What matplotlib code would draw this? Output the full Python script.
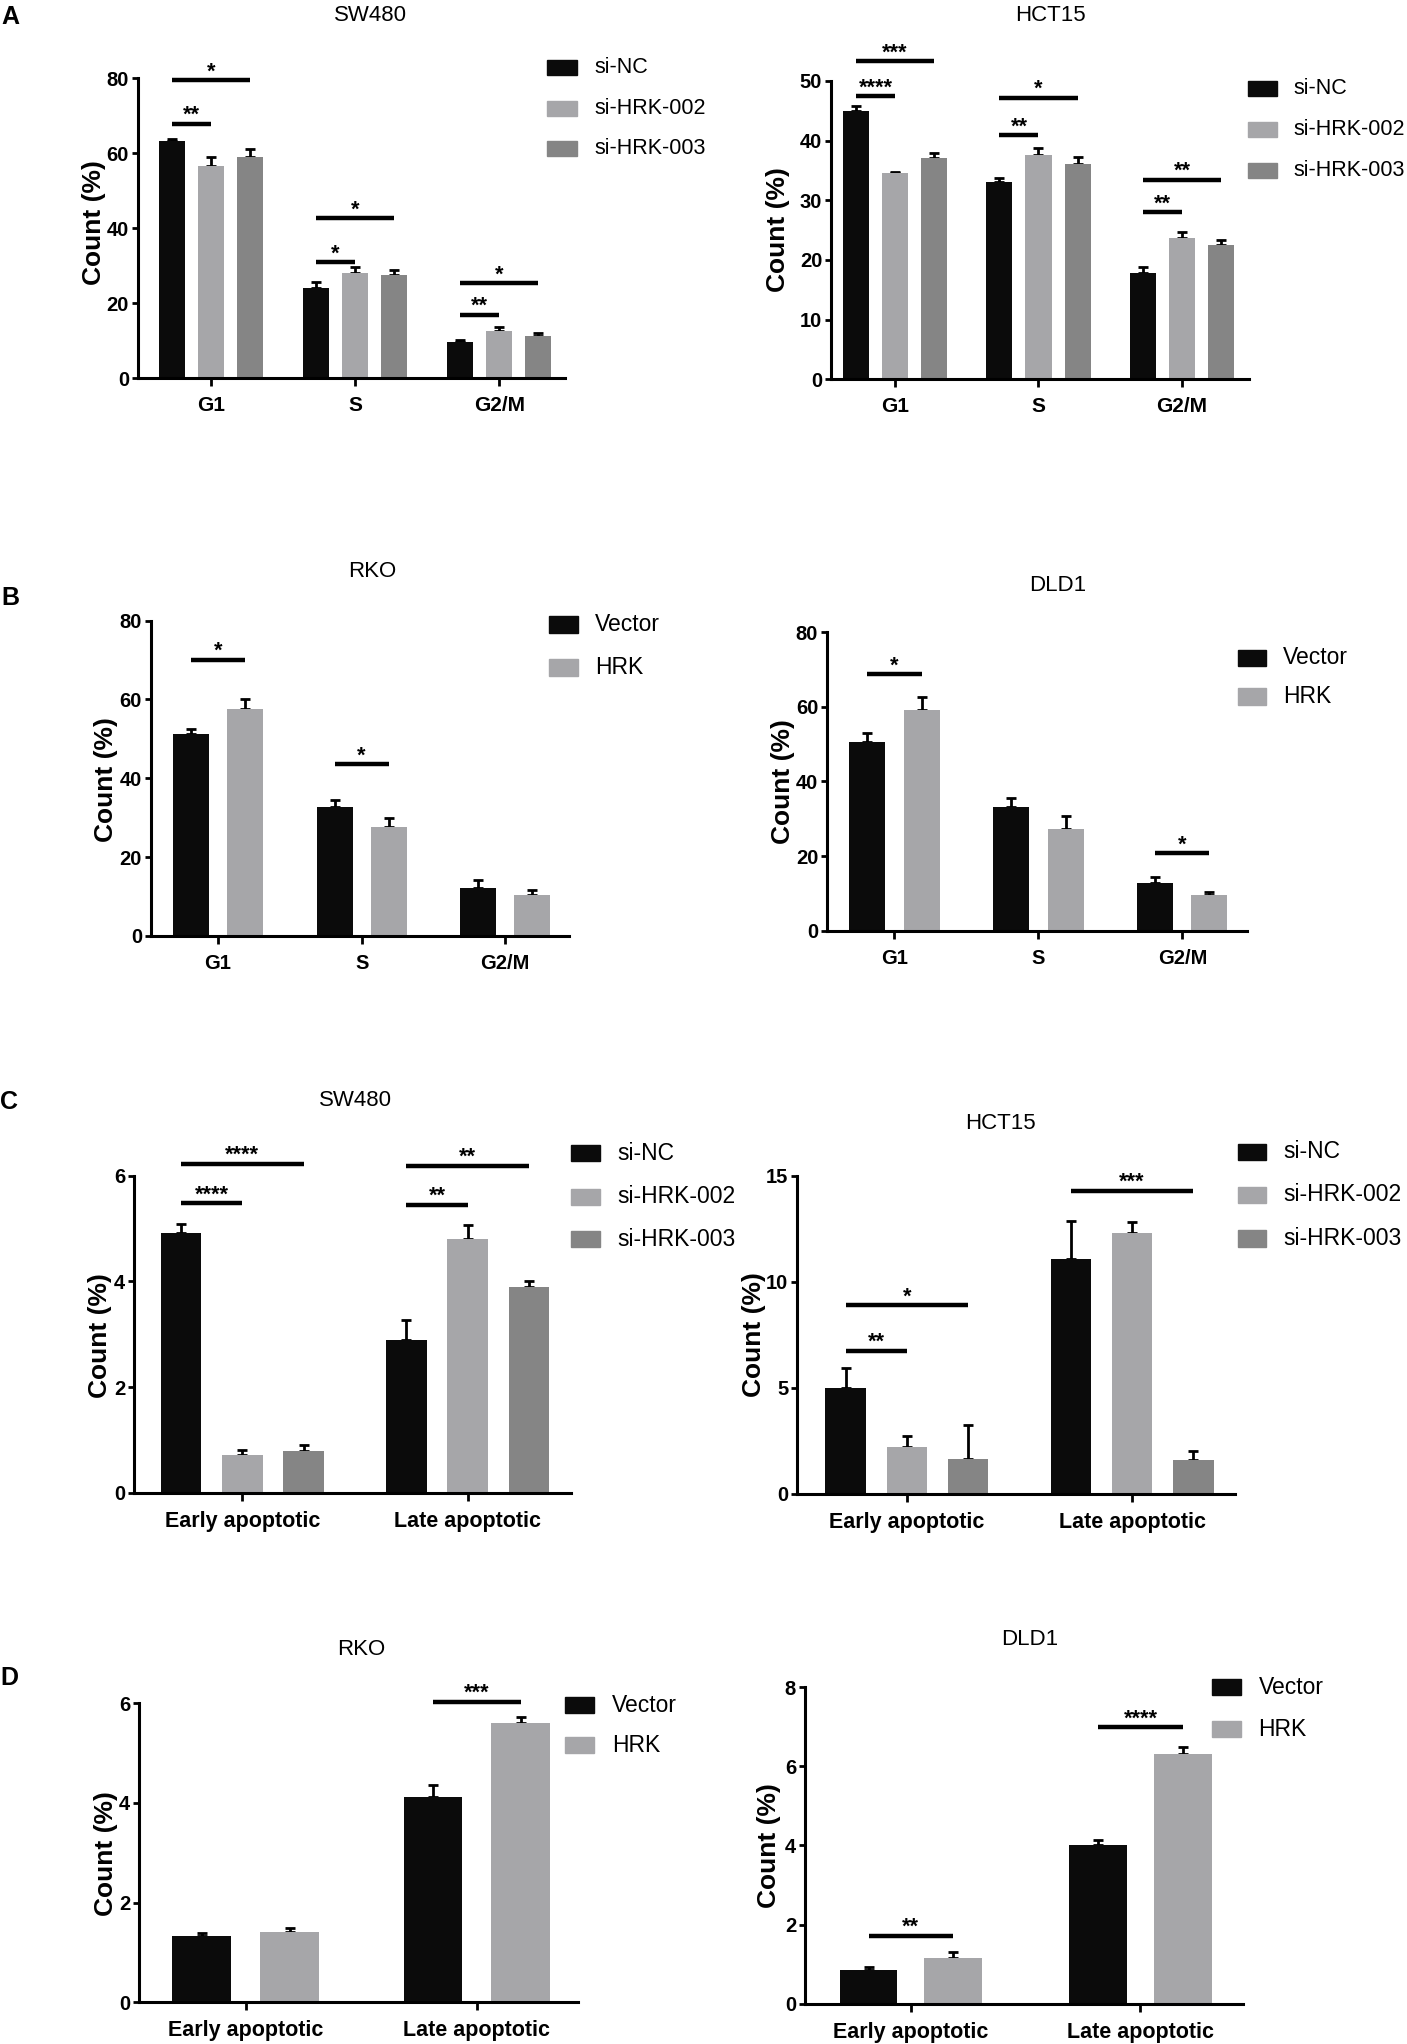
import matplotlib
matplotlib.use('Agg')
import matplotlib.pyplot as plt
from matplotlib.patches import Rectangle
import numpy as np

plt.rcParams['font.family'] = ['Liberation Sans', 'DejaVu Sans']

# ---------------- data ----------------
phases = ['G1', 'S', 'G2/M']
apop = ['Early apoptotic', 'Late apoptotic']
si_groups = ['si-NC', 'si-HRK-002', 'si-HRK-003']
oe_groups = ['Vector', 'HRK']

# rows = groups, columns = categories
A_sw480_mean = [[63.2, 24.0, 9.7], [56.5, 28.0, 12.5], [59.1, 27.5, 11.3]]
A_sw480_err = [[0.6, 1.5, 0.4], [2.5, 1.6, 1.0], [2.0, 1.4, 0.8]]
A_hct15_mean = [[44.9, 33.0, 17.8], [34.5, 37.6, 23.7], [37.0, 36.1, 22.5]]
A_hct15_err = [[0.8, 0.8, 1.0], [0.2, 1.1, 1.0], [0.9, 1.2, 0.8]]
B_rko_mean = [[51.3, 32.7, 12.2], [57.6, 27.6, 10.5]]
B_rko_err = [[1.2, 1.7, 2.1], [2.5, 2.4, 1.1]]
B_dld1_mean = [[50.6, 33.2, 12.9], [59.2, 27.4, 9.6]]
B_dld1_err = [[2.5, 2.4, 1.4], [3.4, 3.4, 0.9]]
C_sw480_mean = [[4.91, 2.89], [0.71, 4.81], [0.78, 3.89]]
C_sw480_err = [[0.18, 0.37], [0.09, 0.25], [0.13, 0.12]]
C_hct15_mean = [[5.0, 11.1], [2.2, 12.3], [1.65, 1.58]]
C_hct15_err = [[0.95, 1.75], [0.55, 0.5], [1.6, 0.42]]
D_rko_mean = [[1.32, 4.11], [1.42, 5.6]]
D_rko_err = [[0.08, 0.25], [0.08, 0.12]]
D_dld1_mean = [[0.84, 4.01], [1.16, 6.32]]
D_dld1_err = [[0.09, 0.14], [0.14, 0.18]]

# significance: (category, bar i, bar j, line height, label)
A_sw480_sig = [(0, 0, 1, 67.8, '**'), (0, 0, 2, 79.4, '*'), (1, 0, 1, 30.9, '*'),
               (1, 0, 2, 42.7, '*'), (2, 0, 1, 16.9, '**'), (2, 0, 2, 25.3, '*')]
A_hct15_sig = [(0, 0, 1, 47.4, '****'), (0, 0, 2, 53.3, '***'), (1, 0, 1, 40.9, '**'),
               (1, 0, 2, 47.2, '*'), (2, 0, 1, 28.0, '**'), (2, 0, 2, 33.4, '**')]
B_rko_sig = [(0, 0, 1, 70.0, '*'), (1, 0, 1, 43.5, '*')]
B_dld1_sig = [(0, 0, 1, 68.7, '*'), (2, 0, 1, 20.8, '*')]
C_sw480_sig = [(0, 0, 1, 5.48, '****'), (0, 0, 2, 6.23, '****'),
               (1, 0, 1, 5.45, '**'), (1, 0, 2, 6.19, '**')]
C_hct15_sig = [(0, 0, 1, 6.74, '**'), (0, 0, 2, 8.9, '*'), (1, 0, 2, 14.3, '***')]
D_rko_sig = [(1, 0, 1, 6.03, '***')]
D_dld1_sig = [(0, 0, 1, 1.71, '**'), (1, 0, 1, 6.99, '****')]

si_colors = ['#0b0b0b', '#a6a6a9', '#858585']
oe_colors = ['#0b0b0b', '#a6a6a9']

# ---------------- layout ----------------
W_D, H_D = 1080.0, 1568.0
fig = plt.figure(figsize=(14.07, 20.44), dpi=100)


def fx(x):
    return x / W_D


def fy(y):
    return 1 - y / H_D


def panel(box, cats, groups, means, errs, sigs, ymax, ystep, xlim, width, offset,
          colors, title, title_xy, ylab_xy, leg, xfs, legfs):
    x0, x1, ytop, ybot = box
    ax = fig.add_axes([fx(x0), fy(ybot), (x1 - x0) / W_D, (ybot - ytop) / H_D])
    n = len(groups)
    xs = np.arange(len(cats))
    offs = (np.arange(n) - (n - 1) / 2) * offset
    for g in range(n):
        m = np.array(means[g])
        e = np.array(errs[g])
        ax.bar(xs + offs[g], m, width, color=colors[g], zorder=2)
        ax.errorbar(xs + offs[g], m, yerr=[np.zeros_like(e), e], fmt='none',
                    ecolor='black', elinewidth=2.0, capsize=3.8, capthick=2.0,
                    zorder=1.9)
    for c, i, j, yl, lab in sigs:
        xa, xb = xs[c] + offs[i], xs[c] + offs[j]
        ax.plot([xa, xb], [yl, yl], color='black', lw=3.2, solid_capstyle='butt',
                clip_on=False, zorder=3)
        ax.annotate(lab, xy=((xa + xb) / 2, yl), xytext=(0, 2.0),
                    textcoords='offset points', ha='center', va='baseline',
                    fontsize=15.5, fontweight='bold', annotation_clip=False)
    ax.set_xlim(*xlim)
    ax.set_ylim(0, ymax)
    ax.set_yticks(np.arange(0, ymax + ystep / 2, ystep))
    ax.set_xticks(xs)
    ax.set_xticklabels(cats, fontsize=xfs, fontweight='bold')
    for lab in ax.get_yticklabels():
        lab.set_fontweight('bold')
        lab.set_fontsize(14.5)
    for s in ['top', 'right']:
        ax.spines[s].set_visible(False)
    for s in ['left', 'bottom']:
        ax.spines[s].set_linewidth(2.2)
    ax.tick_params(axis='y', length=4.5, width=2.0, pad=2)
    ax.tick_params(axis='x', length=6, width=2.0, pad=7)
    ax.set_ylabel('Count (%)', fontsize=19, fontweight='bold')
    ax.yaxis.set_label_coords((ylab_xy[0] - x0) / (x1 - x0),
                              (ybot - ylab_xy[1]) / (ybot - ytop))
    ax.yaxis.label.set_va('center')
    fig.text(fx(title_xy[0]), fy(title_xy[1]), title, ha='center', va='center',
             fontsize=16)
    sx0, sx1, lx, ys, h = leg
    for g in range(n):
        fig.patches.append(Rectangle((fx(sx0), fy(ys[g] + h / 2)), (sx1 - sx0) / W_D,
                                     h / H_D, transform=fig.transFigure,
                                     color=colors[g]))
        fig.text(fx(lx), fy(ys[g]), groups[g], ha='left', va='center', fontsize=legfs)
    return ax


panel((106, 434, 60, 290), phases, si_groups, A_sw480_mean, A_sw480_err, A_sw480_sig,
      80, 20, (-0.507, 2.46), 0.181, 0.2715, si_colors, 'SW480', (284, 12),
      (72, 170.5), (420, 443, 456, [52, 83, 114], 11.5), 15, 15.5)
panel((638, 959, 62, 291), phases, si_groups, A_hct15_mean, A_hct15_err, A_hct15_sig,
      50, 10, (-0.445, 2.47), 0.182, 0.273, si_colors, 'HCT15', (806, 12),
      (597, 176), (958, 980, 993, [68, 99, 131], 11.5), 15, 15.5)
panel((116, 437, 476, 718), phases, oe_groups, B_rko_mean, B_rko_err, B_rko_sig,
      80, 20, (-0.466, 2.447), 0.25, 0.376, oe_colors, 'RKO', (286, 438.5),
      (81, 597.7), (421.5, 444, 456.6, [479, 512], 12.5), 14.5, 16.5)
panel((635, 957, 485, 714), phases, oe_groups, B_dld1_mean, B_dld1_err, B_dld1_sig,
      80, 20, (-0.467, 2.447), 0.25, 0.376, oe_colors, 'DLD1', (812, 449),
      (601, 599.6), (950, 972, 985, [504.5, 534.4], 12.5), 14.5, 16.5)
panel((103, 438, 902, 1145), apop, si_groups, C_sw480_mean, C_sw480_err, C_sw480_sig,
      6, 2, (-0.48, 1.457), 0.179, 0.272, si_colors, 'SW480', (273, 844),
      (77, 1024.8), (438, 460.5, 474, [884.7, 918, 950.7], 12.5), 15.5, 16.5)
panel((612, 948, 902, 1146), apop, si_groups, C_hct15_mean, C_hct15_err, C_hct15_sig,
      15, 5, (-0.486, 1.457), 0.179, 0.272, si_colors, 'HCT15', (768, 862),
      (579, 1024), (950, 972, 985, [883.5, 916.7, 950], 12.5), 15.5, 16.5)
panel((107, 444, 1306.6, 1536), apop, oe_groups, D_rko_mean, D_rko_err, D_rko_sig,
      6, 2, (-0.46, 1.44), 0.254, 0.38, oe_colors, 'RKO', (277.5, 1265),
      (81, 1421.8), (434, 456, 470, [1308, 1338.7], 12.5), 15.5, 16.5)
panel((618, 954, 1294.4, 1537), apop, oe_groups, D_dld1_mean, D_dld1_err, D_dld1_sig,
      8, 2, (-0.46, 1.446), 0.252, 0.368, oe_colors, 'DLD1', (790.6, 1257.6),
      (590, 1415.4), (930, 952.5, 966, [1294.4, 1326.4], 12.5), 15.5, 16.5)

for letter, (lx, ly) in zip(['A', 'B', 'C', 'D'],
                            [(8, 12.7), (8, 459), (7, 845), (7, 1287.5)]):
    fig.text(fx(lx), fy(ly), letter, ha='center', va='center', fontsize=18,
             fontweight='bold')

fig.savefig('out.png', dpi=100, facecolor='white')
